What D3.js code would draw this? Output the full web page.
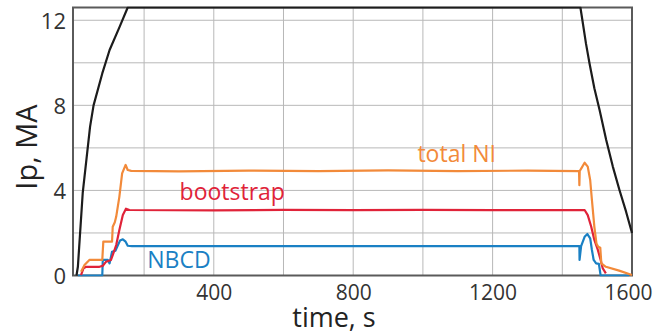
<!DOCTYPE html>
<html>
<head>
<meta charset="utf-8">
<script src="https://cdn.jsdelivr.net/npm/d3@7"></script>
<style>
  html, body { margin: 0; padding: 0; background: #fff; }
  svg { display: block; font-family: "Open Sans", "Noto Sans", sans-serif; }
</style>
</head>
<body>
<svg id="chart" width="655" height="334"></svg>
<script>
// ---- data (time in s, current in MA) ----
const totalCurrent = [
  [6, 0], [10, 0.41], [24, 3.9], [45, 7.0], [55, 8.0], [80, 9.5], [101, 10.6], [130, 11.7], [153, 12.6],
  [1452, 12.6], [1459, 11.86], [1468, 10.9], [1478, 9.98], [1492, 8.8], [1507, 7.78], [1526, 6.37],
  [1545, 5.12], [1564, 4.02], [1583, 3.0], [1600, 2.0]
];
const totalNI = [
  [19, 0.18], [29, 0.49], [43, 0.73], [80, 0.73], [83, 1.59], [108, 1.59], [110, 2.29], [116, 2.5],
  [120, 2.77], [129, 3.7], [137, 4.8], [147, 5.2], [153, 4.96], [163, 4.92], [300, 4.90], [500, 4.93],
  [700, 4.91], [900, 4.94], [1100, 4.91], [1300, 4.93], [1448, 4.91], [1449, 4.25], [1450, 4.91],
  [1455, 5.05], [1464, 5.3], [1473, 5.12], [1480, 4.49], [1485, 3.55], [1492, 2.29], [1498, 1.51],
  [1503, 1.35], [1509, 1.3], [1512, 0.57], [1525, 0.41], [1563, 0.23], [1600, 0.02]
];
const bootstrap = [
  [19, 0.02], [26, 0.34], [34, 0.41], [72, 0.41], [81, 0.45], [91, 0.65], [105, 0.73], [110, 0.96],
  [120, 1.43], [129, 2.14], [139, 2.84], [148, 3.14], [158, 3.08], [400, 3.06], [600, 3.09],
  [800, 3.07], [1000, 3.09], [1200, 3.07], [1464, 3.08], [1473, 2.84], [1483, 2.29], [1492, 1.67],
  [1502, 1.2], [1510, 0.73], [1516, 0.34], [1525, 0.1]
];
const nbcd = [
  [10, 0], [80, 0], [81.5, 0.73], [96, 0.73], [101, 0.57], [108, 1.12], [118, 1.17], [125, 1.43],
  [131, 1.64], [139, 1.7], [147, 1.59], [153, 1.4], [165, 1.38], [1449, 1.38], [1449.5, 0.73],
  [1454, 1.38], [1464, 1.82], [1472, 1.95], [1480, 1.75], [1485, 1.2], [1490, 0.73], [1497, 0.57],
  [1505, 0.55], [1510, 0], [1592, 0]
];
const xTickLabels = [400, 800, 1200, 1600];
const xGrid = [200, 400, 600, 800, 1000, 1200, 1400, 1600];
const yTickLabels = [0, 4, 8, 12];
const yGrid = [2, 4, 6, 8, 10, 12];
const seriesNames = ["total NI", "bootstrap", "NBCD"];

(function () {
  // ---- layout ----
  const svg = d3.select("#chart");
  const pL = 73, pR = 632, pT = 7.5, pB = 275.5;
  const x = d3.scaleLinear().domain([-4, 1600]).range([pL, pR]);
  const y = d3.scaleLinear().domain([0, 12.6]).range([pB, pT]);

  // grid
  svg.append("g").selectAll("line").data(xGrid).join("line")
    .attr("x1", d => x(d)).attr("x2", d => x(d)).attr("y1", pT).attr("y2", pB)
    .attr("stroke", "#b8b8b8").attr("stroke-width", 1);
  svg.append("g").selectAll("line").data(yGrid).join("line")
    .attr("x1", pL).attr("x2", pR).attr("y1", d => y(d)).attr("y2", d => y(d))
    .attr("stroke", "#b8b8b8").attr("stroke-width", 1);

  // axes (labels via d3 axes)
  const xAxis = svg.append("g").attr("transform", `translate(0,${pB})`)
    .call(d3.axisBottom(x).tickValues(xTickLabels).tickSize(0).tickPadding(0).tickFormat(d3.format("d")));
  xAxis.select(".domain").remove();
  xAxis.selectAll("text").attr("font-size", 21).attr("fill", "#333").attr("font-family", "Open Sans")
    .attr("y", 24).attr("dy", 0)
    .attr("dx", d => d === 1600 ? -4 : 0);

  const yAxis = svg.append("g").attr("transform", `translate(${pL},0)`)
    .call(d3.axisLeft(y).tickValues(yTickLabels).tickSize(0).tickPadding(7).tickFormat(d3.format("d")));
  yAxis.select(".domain").remove();
  yAxis.selectAll("text").attr("font-size", 22).attr("fill", "#333").attr("font-family", "Open Sans")
    .attr("dy", "0.36em");

  // frame
  svg.append("rect").attr("x", pL).attr("y", pT).attr("width", pR - pL).attr("height", pB - pT)
    .attr("fill", "none").attr("stroke", "#5a5a5a").attr("stroke-width", 2);

  // lines
  const line = d3.line().x(d => x(d[0])).y(d => y(d[1]));
  const colors = { black: "#1c1c1c", orange: "#f28a3a", red: "#e02339", blue: "#1a80c4" };
  svg.append("defs").append("clipPath").attr("id", "clip")
    .append("rect").attr("x", pL - 1).attr("y", pT - 1).attr("width", pR - pL + 2).attr("height", pB - pT + 2);
  const g = svg.append("g").attr("clip-path", "url(#clip)");
  [[nbcd, colors.blue], [bootstrap, colors.red], [totalNI, colors.orange], [totalCurrent, colors.black]]
    .forEach(([data, c]) => {
      g.append("path").datum(data).attr("d", line).attr("fill", "none")
        .attr("stroke", c).attr("stroke-width", 2.2).attr("stroke-linejoin", "round");
    });

  // series labels
  const labelData = [
    { name: seriesNames[0], t: 1097, v: 5.355, color: colors.orange },
    { name: seriesNames[1], t: 453, v: 3.57, color: colors.red },
    { name: seriesNames[2], t: 300, v: 0.37, color: colors.blue }
  ];
  svg.append("g").selectAll("text").data(labelData).join("text")
    .attr("x", d => x(d.t)).attr("y", d => y(d.v))
    .attr("text-anchor", "middle").attr("font-size", 23).attr("fill", d => d.color)
    .text(d => d.name);

  // axis titles
  svg.append("text").attr("x", 334).attr("y", 327).attr("text-anchor", "middle")
    .attr("font-size", 27).attr("fill", "#222").text("time, s");
  svg.append("text").attr("transform", "translate(37,147) rotate(-90)").attr("text-anchor", "middle")
    .attr("font-size", 29).attr("fill", "#222").text("Ip, MA");
})();
</script>
</body>
</html>
